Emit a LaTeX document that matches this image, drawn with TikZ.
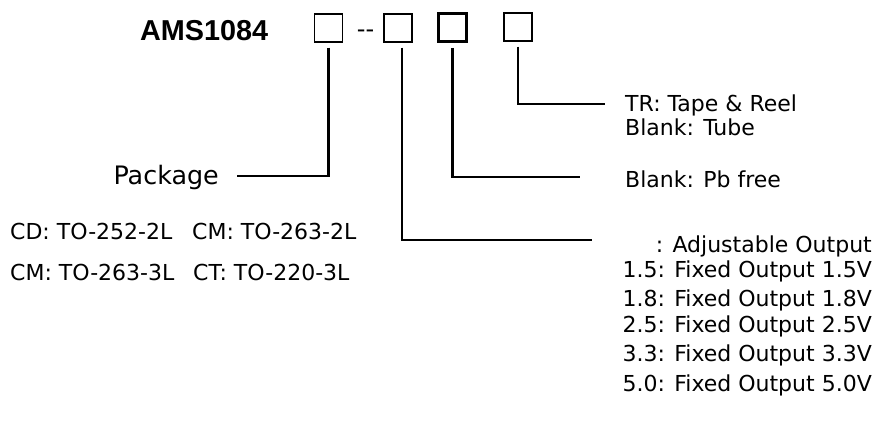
\documentclass[tikz,border=0pt]{standalone}
\usepackage{fontspec}
\setmainfont{DejaVu Sans}
\newfontfamily\partfont{Liberation Sans}
\begin{document}
\begin{tikzpicture}[x=1pt,y=-1pt,
    part/.style={draw,line width=1.4pt,minimum size=28pt,inner sep=0pt},
    lead/.style={line width=2.4pt,shorten <=5pt},
    lbl/.style={font=\fontsize{22}{24}\selectfont,inner sep=0pt}]
    \useasboundingbox (0,0) rectangle (875,430);
    \node[font=\partfont\bfseries\fontsize{28.8}{30}\selectfont,inner sep=0pt,anchor=base west] (pn) at (140,41) {AMS1084};
    \node[part] (b1) at (328.5,28) {};
    \node[lbl,anchor=base,font=\fontsize{24}{26}\selectfont] (dash) at (365.5,38) {-{}-};
    \node[part] (b2) at (398,28) {};
    \node[part,line width=3pt] (b3) at (452.5,27.5) {};
    \node[part] (b4) at (518,27) {};
    % option fields
    \node[lbl,anchor=base east,font=\fontsize{25.4}{27}\selectfont] (pkg) at (219,185) {Package};
    \node[lbl,anchor=base west] (cd) at (10,240) {CD: TO-252-2L};
    \node[lbl,anchor=base west] (cm2) at (192,240) {CM: TO-263-2L};
    \node[lbl,anchor=base west] (cm3) at (10,280) {CM: TO-263-3L};
    \node[lbl,anchor=base west] (ct) at (193,280) {CT: TO-220-3L};
    \node[lbl,anchor=base west] (tr) at (625,112) {TR: Tape \& Reel};
    \node[lbl,anchor=base west] (tube) at (625,136) {Blank: Tube};
    \node[lbl,anchor=base west] (pb) at (625,188) {Blank: Pb free};
    \node[lbl,anchor=base east] (adj) at (872,253) {: Adjustable Output};
    \node[lbl,anchor=base east] (v15) at (872,278) {1.5: Fixed Output 1.5V};
    \node[lbl,anchor=base east] (v18) at (872,306) {1.8: Fixed Output 1.8V};
    \node[lbl,anchor=base east] (v25) at (872,332) {2.5: Fixed Output 2.5V};
    \node[lbl,anchor=base east] (v33) at (872,361) {3.3: Fixed Output 3.3V};
    \node[lbl,anchor=base east] (v50) at (872,391) {5.0: Fixed Output 5.0V};
    % leads
    \coordinate (k1) at (237,176);
    \coordinate (k2) at (592,240);
    \coordinate (k3) at (580,177);
    \coordinate (k4) at (605,104);
    \draw[lead] (b1.south) |- (k1);
    \draw[lead] ([xshift=4pt]b2.south) |- (k2);
    \draw[lead] (b3.south) |- (k3);
    \draw[lead] (b4.south) |- (k4);
\end{tikzpicture}
\end{document}
